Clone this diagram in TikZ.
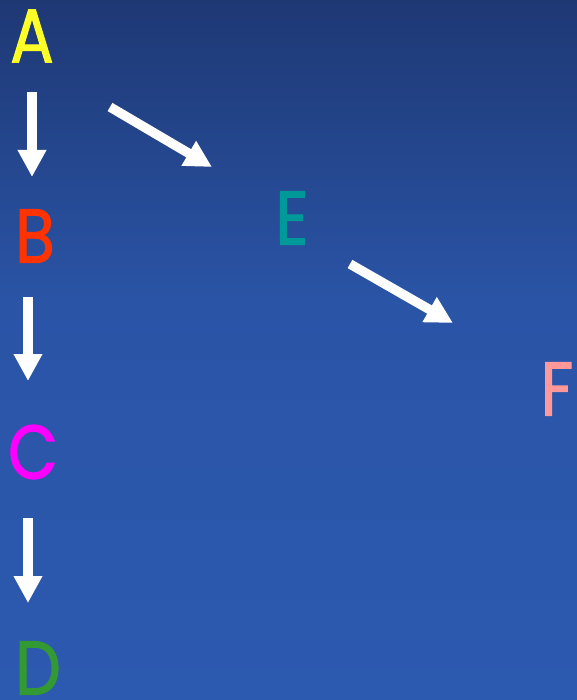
\documentclass[tikz,border=0pt]{standalone}
\usepackage{fontspec}
\setmainfont{Poppins}
\newfontfamily\lettersfont{Poppins}[FakeBold=1.6]
\usetikzlibrary{arrows.meta}
\definecolor{bgtop}{RGB}{30,56,116}
\definecolor{bgmid}{RGB}{42,84,166}
\definecolor{bgbot}{RGB}{44,90,176}
\definecolor{ltrA}{RGB}{255,255,40}
\definecolor{ltrB}{RGB}{255,51,0}
\definecolor{ltrC}{RGB}{255,0,255}
\definecolor{ltrD}{RGB}{51,153,51}
\definecolor{ltrE}{RGB}{0,153,153}
\definecolor{ltrF}{RGB}{255,153,153}
\tikzset{
  letter/.style={inner sep=0pt, font=\lettersfont\fontsize{76}{80}\selectfont},
  flow/.style={white, line width=9.5pt,
    -{Triangle[length=27pt,width=27pt]}}
}
\begin{document}
\begin{tikzpicture}[x=1pt,y=-1pt]
  % background: vertical gradient, then flat blue
  \useasboundingbox (0,0) rectangle (577,700);
  \shade[top color=bgtop, bottom color=bgmid] (0,0) rectangle (577,300);
  \shade[top color=bgmid, bottom color=bgbot] (0,299) rectangle (577,700);
  % letters
  \node[letter, text=ltrA] (A) at (32,36) {\scalebox{0.85}[1]{A}};
  \node[letter, text=ltrB] (B) at (35,236) {\scalebox{0.85}[1]{B}};
  \node[letter, text=ltrC] (C) at (33,452) {\scalebox{0.85}[1]{C}};
  \node[letter, text=ltrD] (D) at (38,668) {\scalebox{0.85}[1]{D}};
  \node[letter, text=ltrE] (E) at (292,218) {\scalebox{0.85}[1]{E}};
  \node[letter, text=ltrF] (F) at (557,389) {\scalebox{0.85}[1]{F}};
  % arrow end points
  \coordinate (A-down) at (32,92);
  \coordinate (B-in) at (32,177);
  \coordinate (B-down) at (28,297);
  \coordinate (C-in) at (28,381);
  \coordinate (C-down) at (28,518);
  \coordinate (D-in) at (28,603);
  \coordinate (A-right) at (110,107);
  \coordinate (E-in) at (212,167);
  \coordinate (E-right) at (350,264);
  \coordinate (F-in) at (453,323);
  % arrows
  \draw[flow] (A-down) -- (B-in);
  \draw[flow] (B-down) -- (C-in);
  \draw[flow] (C-down) -- (D-in);
  \draw[flow] (A-right) -- (E-in);
  \draw[flow] (E-right) -- (F-in);
\end{tikzpicture}
\end{document}
